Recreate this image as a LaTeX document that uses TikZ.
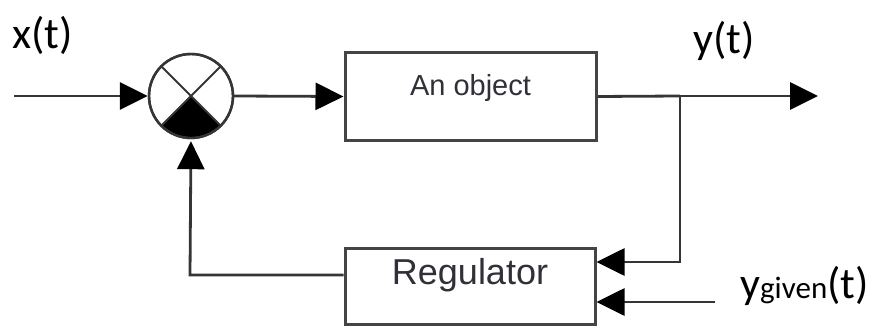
\documentclass[tikz,border=0pt]{standalone}
\usepackage{fontspec}
\setmainfont{Liberation Sans}
\newfontfamily\labelfont{Carlito}
\usetikzlibrary{arrows.meta}

\definecolor{wirecol}{HTML}{353535}
\definecolor{boxcol}{HTML}{444444}
\definecolor{boxtext}{HTML}{303038}

\begin{document}
\begin{tikzpicture}[x=1pt,y=1pt,
  wire/.style={line width=2.8pt, draw=wirecol,
    -{Triangle[length=28pt,width=27pt,color=black]}},
  plain/.style={line width=2.8pt, draw=wirecol},
  block/.style={draw=boxcol, line width=3pt, inner sep=0pt, fill=white},
  blocktext/.style={text=boxtext},
  signal/.style={font=\labelfont\fontsize{44}{44}\selectfont, text=black, inner sep=0pt}
]
\useasboundingbox (0,0) rectangle (874,327);

% summing junction
\node[circle, draw=wirecol, line width=2.4pt, minimum size=84pt, inner sep=0pt] (sum) at (191,231) {};
\fill[black, shift={(sum.center)}] (0,0) -- (-45:41pt) arc[start angle=-45, end angle=-135, radius=41pt] -- cycle;
\draw[wirecol, line width=2pt, shift={(sum.center)}] (45:41pt) -- (-135:41pt) (135:41pt) -- (-45:41pt);
\node[circle, draw=wirecol, line width=2.4pt, minimum size=84pt, inner sep=0pt] at (sum.center) {};

% blocks
\node[block, minimum width=251pt, minimum height=87pt] (obj) at (470.5,230.5) {};
\node[blocktext, font=\fontsize{29}{29}\selectfont] (objtext) at (470.5,239) {An object};
\node[block, minimum width=250pt, minimum height=76pt] (reg) at (470,41) {};
\node[blocktext, font=\fontsize{36}{36}\selectfont] (regtext) at (470,52) {Regulator};

% helper points
\coordinate (xin) at (14,231);
\coordinate (j) at (680,231);
\coordinate (yout) at (818,231);
\coordinate (jdown) at (680,65);
\coordinate (yg) at (715,25);
\coordinate (fb) at (190,52);

% connectors
\draw[wire] (xin) -- (sum.west);
\draw[wire] (sum.east) -- (obj.west);
\draw[plain] (obj.east) -- (j);
\draw[wire] (j) -- (yout);
\draw[wire] (j) -- (jdown) -- (jdown -| reg.east);
\draw[wire] (yg) -- (yg -| reg.east);
\draw[wire, shorten >=2pt] (fb -| reg.west) -- (fb) -- (sum.south);

% signal labels
\node[signal, anchor=base west] (xlab) at (12,278) {x(t)};
\node[signal, anchor=base west] (ylab) at (693,273) {y(t)};
\node[signal, anchor=base west] (yglab) at (740,29) {y{\fontsize{31}{31}\selectfont given}(t)};
\end{tikzpicture}
\end{document}
